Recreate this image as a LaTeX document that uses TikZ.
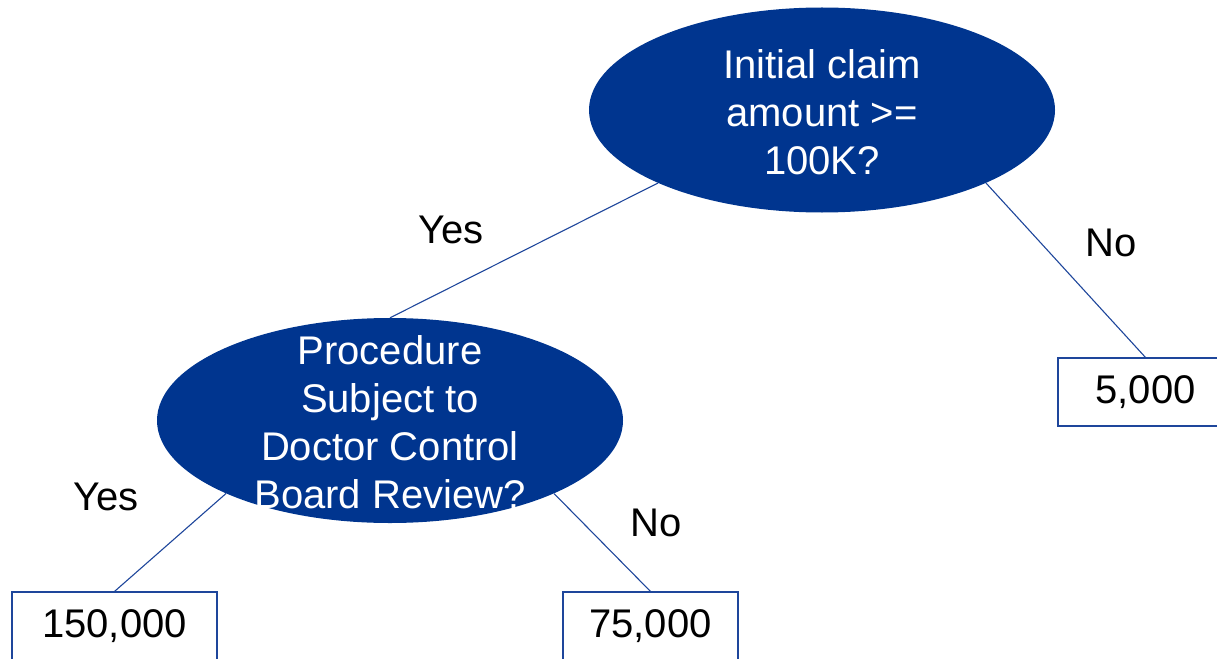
\documentclass[tikz,border=0pt]{standalone}
\usepackage{fontspec}
\setmainfont{Liberation Sans}
\usetikzlibrary{shapes.geometric}
\definecolor{navy}{RGB}{0,53,143}
\definecolor{edgeblue}{RGB}{30,70,155}
\tikzset{
  question/.style={ellipse, fill=navy, draw=none, minimum width=466pt, minimum height=205pt, inner sep=0pt},
  qtext/.style={text=white, align=center, font=\fontsize{40}{48}\selectfont},
  leaf/.style={draw=edgeblue, line width=1.1pt, minimum height=68pt, inner sep=0pt, font=\fontsize{40}{48}\selectfont},
  branch/.style={font=\fontsize{40}{48}\selectfont},
  link/.style={draw=edgeblue, line width=1.1pt}
}
\begin{document}
\begin{tikzpicture}[x=1pt,y=-1pt]
  \useasboundingbox (0,0) rectangle (1217,658);
  \clip (0,0) rectangle (1217,658);

  % leaves
  \node[leaf, minimum width=205pt] (b150) at (114.5,626) {150,000};
  \node[leaf, minimum width=175pt] (b75) at (650.5,626) {75,000};
  \node[leaf, minimum width=175pt] (b5) at (1145.5,392) {5,000};

  % decision shapes
  \node[question] (top) at (822,110) {};
  \node[question] (mid) at (390,420.5) {};

  % connectors
  \draw[link] (top.204) -- (mid.north);
  \draw[link] (top.336) -- (b5.north);
  \draw[link] (mid.204) -- (b150.north);
  \draw[link] (mid.336) -- (b75.north);

  % question texts
  \node[qtext] (toptext) at (822,112) {Initial claim\\amount >=\\100K?};
  \node[qtext] (midtext) at (390,422) {Procedure\\Subject to\\Doctor Control\\Board Review?};

  % branch labels
  \node[branch] (yes1) at (451,230) {Yes};
  \node[branch] (no1) at (1111,243) {No};
  \node[branch] (yes2) at (106,497) {Yes};
  \node[branch] (no2) at (656,523) {No};
\end{tikzpicture}
\end{document}
